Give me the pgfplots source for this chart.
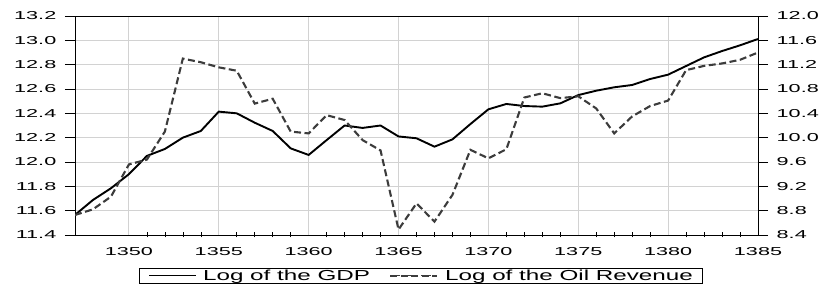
\documentclass[border=0pt]{standalone}
\usepackage{fontspec}
\setmainfont{Liberation Sans}
\newfontfamily\tickfam{Liberation Sans}[FakeStretch=1.88]
\newfontfamily\legfam{Liberation Sans}[FakeStretch=1.67]
\usepackage{pgfplots}
\pgfplotsset{compat=1.18}
\definecolor{gridgray}{HTML}{D2D2D2}
\definecolor{dashgray}{HTML}{3C3C3C}
\newcommand{\lblfont}{\tickfam\fontsize{11.5bp}{13bp}\selectfont}
\newcommand{\legfont}{\legfam\fontsize{14.5bp}{16bp}\selectfont}
\pgfplotsset{
  solidleg/.style={legend image code/.code={\draw[black, line width=0.8bp] (0bp,0bp) -- (47bp,0bp);}},
  dashleg/.style={legend image code/.code={\draw[dashgray, line width=0.9bp, dash pattern=on 10bp off 5.5bp] (0bp,0bp) -- (41bp,0bp); \path (0bp,0bp) -- (47.3bp,0bp);}},
}
\begin{document}
\begin{tikzpicture}
\pgfplotsset{
  every axis/.append style={
    width=683bp, height=219bp, scale only axis,
    xmin=1347, xmax=1385,
    at={(0,0)}, anchor=south west,
    /pgf/number format/assume math mode=true,
    tick label style={font=\lblfont},
    major tick length=10bp,
  }
}
\begin{axis}[
  ymin=11.4, ymax=13.2,
  ytick={11.4,11.6,...,13.21},
  yticklabel style={/pgf/number format/fixed, /pgf/number format/fixed zerofill, /pgf/number format/precision=1, xshift=-5.2bp},
  xtick={1350,1355,...,1385},
  minor x tick num=4,
  xtick pos=bottom, ytick pos=left,
  ytick align=outside, xtick align=center,
  minor tick length=5bp,
  major x tick style={draw=none},
  minor x tick style={black, line width=0.6bp},
  y tick style={black, line width=0.6bp},
  xticklabel style={/pgf/number format/1000 sep={}, yshift=-4.2bp},
  grid=major,
  major grid style={gridgray, line width=0.9bp},
  axis line style={black, line width=0.9bp},
]
\addplot[black, line width=1.9bp] coordinates {
(1347,11.565) (1348,11.688) (1349,11.784) (1350,11.90) (1351,12.05)
(1352,12.107) (1353,12.20) (1354,12.255) (1355,12.414) (1356,12.40)
(1357,12.323) (1358,12.255) (1359,12.112) (1360,12.058) (1361,12.18)
(1362,12.30) (1363,12.28) (1364,12.30) (1365,12.21) (1366,12.195)
(1367,12.126) (1368,12.186) (1369,12.312) (1370,12.433) (1371,12.477)
(1372,12.46) (1373,12.455) (1374,12.482) (1375,12.55) (1376,12.586)
(1377,12.614) (1378,12.633) (1379,12.682) (1380,12.718) (1381,12.789)
(1382,12.86) (1383,12.912) (1384,12.959) (1385,13.011)
};
\end{axis}
\begin{axis}[
  ymin=8.4, ymax=12.0,
  ytick={8.4,8.8,...,12.01},
  yticklabel style={/pgf/number format/fixed, /pgf/number format/fixed zerofill, /pgf/number format/precision=1, xshift=5.2bp},
  axis y line*=right, axis x line=none,
  ytick align=outside,
  y tick style={black, line width=0.6bp},
  axis line style={black, line width=0.9bp},
  legend style={at={(64.3bp,-32.7bp)}, anchor=north west, draw=black, line width=0.7bp,
    font=\legfont, inner xsep=9bp, inner ysep=1.5bp,
    nodes={inner sep=0pt},
    /tikz/every odd column/.append style={column sep=6.7bp},
    /tikz/every even column/.append style={column sep=19bp}},
  legend columns=2,
  legend cell align=left,
]
\addlegendimage{solidleg}
\addlegendentry{Log of the GDP}
\addplot[dashgray, line width=2.1bp, dash pattern=on 7bp off 3.5bp, dashleg] coordinates {
(1347,8.729) (1348,8.822) (1349,9.03) (1350,9.56) (1351,9.64)
(1352,10.10) (1353,11.30) (1354,11.24) (1355,11.156) (1356,11.10)
(1357,10.56) (1358,10.64) (1359,10.10) (1360,10.07) (1361,10.37)
(1362,10.29) (1363,9.96) (1364,9.79) (1365,8.49) (1366,8.92)
(1367,8.62) (1368,9.06) (1369,9.80) (1370,9.66) (1371,9.81)
(1372,10.66) (1373,10.73) (1374,10.65) (1375,10.68) (1376,10.48)
(1377,10.07) (1378,10.35) (1379,10.52) (1380,10.61) (1381,11.11)
(1382,11.18) (1383,11.22) (1384,11.28) (1385,11.40)
};
\addlegendentry{Log of the Oil Revenue}
\end{axis}
\useasboundingbox (-75bp,-48bp) rectangle (748bp,235bp);
\end{tikzpicture}
\end{document}
